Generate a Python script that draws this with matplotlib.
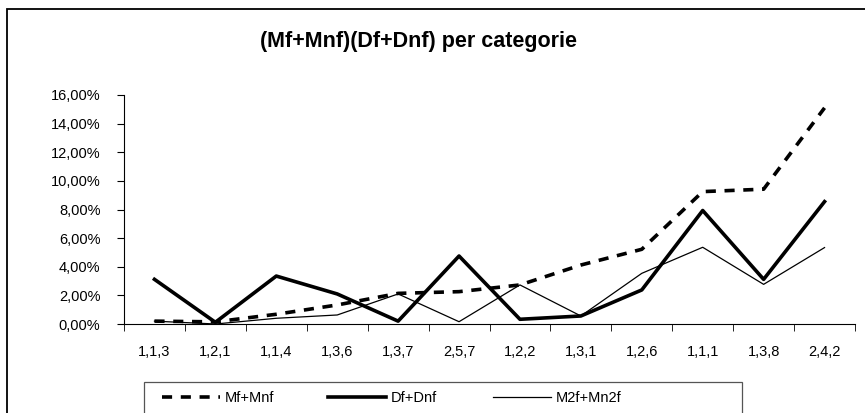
import matplotlib.pyplot as plt
import matplotlib.ticker as ticker
from matplotlib.patches import Rectangle
from matplotlib.lines import Line2D
import numpy as np

categories = ['1,1,3', '1,2,1', '1,1,4', '1,3,6', '1,3,7', '2,5,7',
              '1,2,2', '1,3,1', '1,2,6', '1,1,1', '1,3,8', '2,4,2']
mf_mnf   = [0.20, 0.15, 0.68, 1.33, 2.14, 2.26, 2.73, 4.12, 5.22, 9.25, 9.42, 15.10]
df_dnf   = [3.12, 0.12, 3.35, 2.10, 0.20, 4.75, 0.33, 0.56, 2.38, 7.93, 3.12, 8.55]
m2f_mn2f = [0.20, 0.00, 0.40, 0.63, 2.10, 0.16, 2.73, 0.56, 3.54, 5.36, 2.77, 5.34]

plt.rcParams['font.family'] = ['Liberation Sans', 'DejaVu Sans']
plt.rcParams['font.size'] = 10.5

W, H = 865, 413
fig = plt.figure(figsize=(W / 100, H / 100), dpi=100)
ax = fig.add_axes([124 / W, 1 - 324 / H, (855 - 124) / W, (324 - 95) / H])

x = np.arange(len(categories))
l1, = ax.plot(x, mf_mnf, color='black', lw=2.6, dashes=(2.8, 2.4), label='Mf+Mnf')
l2, = ax.plot(x, df_dnf, color='black', lw=2.6, label='Df+Dnf')
l3, = ax.plot(x, m2f_mn2f, color='black', lw=0.9, label='M2f+Mn2f')

ax.set_xlim(-0.5, len(categories) - 0.5)
ax.set_ylim(0, 16)
ax.yaxis.set_major_locator(ticker.MultipleLocator(2))
ax.yaxis.set_major_formatter(ticker.FuncFormatter(lambda v, p: ('%.2f%%' % v).replace('.', ',')))
ax.set_xticks(x)
ax.set_xticklabels(categories)
ax.set_xticks(np.arange(-0.5, len(categories), 1), minor=True)
ax.tick_params(axis='x', which='major', length=0, pad=15)
ax.tick_params(axis='x', which='minor', length=5, direction='out')
ax.tick_params(axis='y', length=5, direction='out', pad=12)
for s in ['top', 'right']:
    ax.spines[s].set_visible(False)
for s in ['left', 'bottom']:
    ax.spines[s].set_linewidth(0.8)

fig.text(418 / W, 1 - 41 / H, '(Mf+Mnf)(Df+Dnf) per categorie', ha='center', va='center',
         fontsize=15.5, fontweight='bold')

# outer chart border (cut off on right and bottom)
fig.patches.append(Rectangle((7 / W, -0.2), 1.2, 1.2 - 9 / H,
                             transform=fig.transFigure, fill=False,
                             edgecolor='black', lw=1.3, clip_on=False))
# legend box
fig.patches.append(Rectangle((144 / W, -0.2), (742 - 144) / W, 0.2 + 1 - 382 / H,
                             transform=fig.transFigure, fill=False,
                             edgecolor='#555555', lw=0.9, clip_on=False))

for line, xpos in [(l1, 162), (l2, 328), (l3, 493)]:
    leg = fig.legend(handles=[line], loc='center left',
                     bbox_to_anchor=(xpos / W, 1 - 398 / H), frameon=False,
                     handlelength=4.0, handletextpad=0.3, borderpad=0,
                     borderaxespad=0)

plt.savefig('out.png', dpi=100)
